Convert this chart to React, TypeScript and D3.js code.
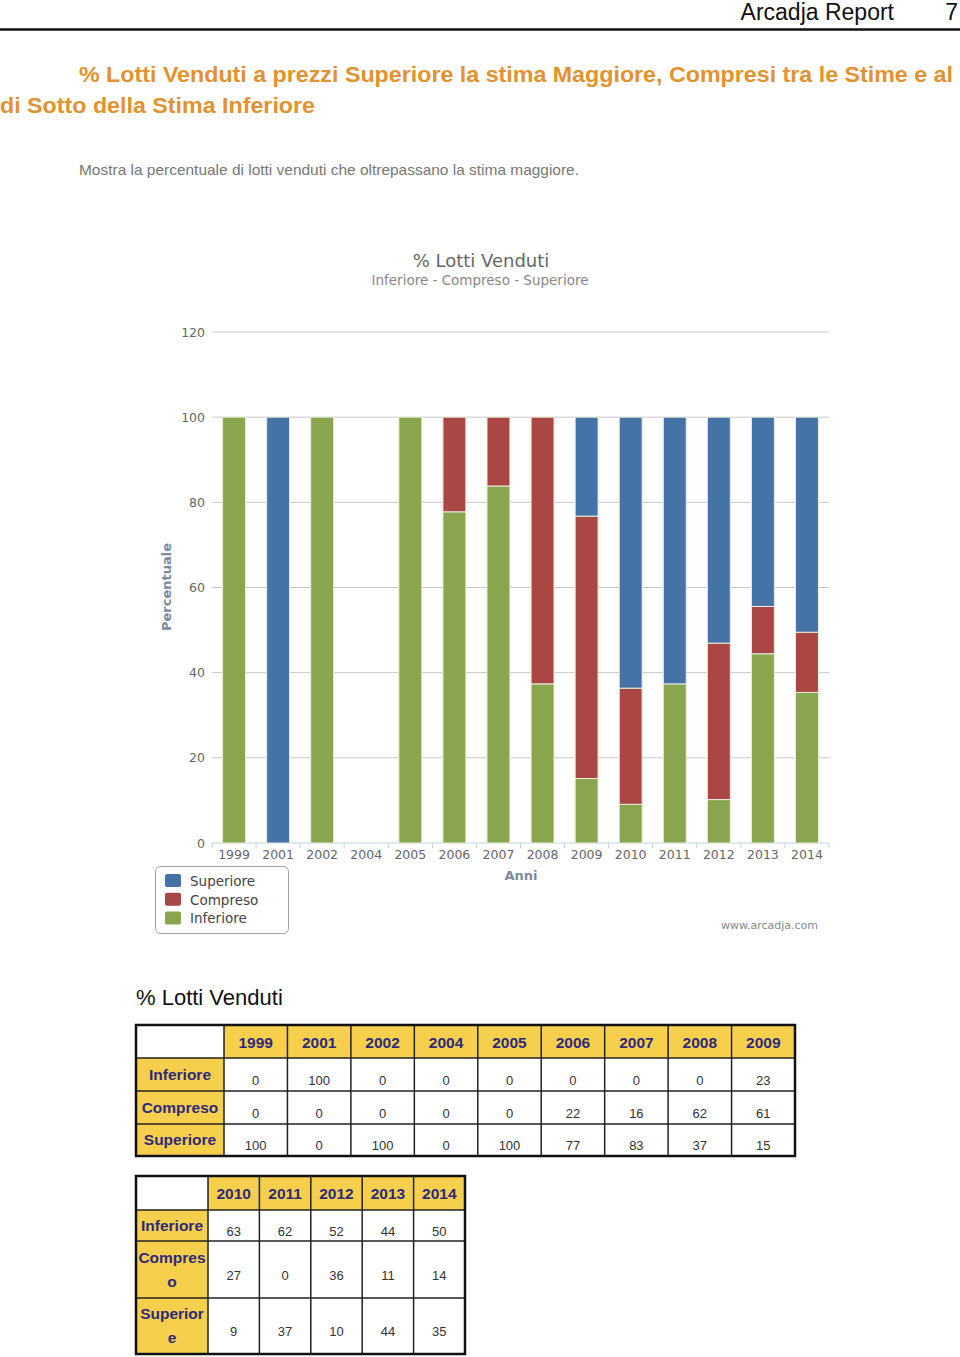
import React from "react";
import * as d3 from "d3";

const years = ["1999","2001","2002","2004","2005","2006","2007","2008","2009","2010","2011","2012","2013","2014"];
// Table rows as printed in the report
const rowInferiore = [0,100,0,0,0,0,0,0,23,63,62,52,44,50];
const rowCompreso = [0,0,0,0,0,22,16,62,61,27,0,36,11,14];
const rowSuperiore = [100,0,100,0,100,77,83,37,15,9,37,10,44,35];
const yTicks = [0,20,40,60,80,100,120];

// Chart stacking as drawn (bottom -> top)
const chartSeries = [
  { name: "Inferiore", color: "#89A54E", values: rowSuperiore },
  { name: "Compreso", color: "#AA4643", values: rowCompreso },
  { name: "Superiore", color: "#4572A7", values: rowInferiore },
];
const legendOrder = ["Superiore", "Compreso", "Inferiore"];

const tableRows = [rowInferiore, rowCompreso, rowSuperiore];
const table1Labels = [["Inferiore"], ["Compreso"], ["Superiore"]];
const table2Labels = [["Inferiore"], ["Compres", "o"], ["Superior", "e"]];

const YELLOW = "#F6D04D";
const PURPLE = "#2F2A7C";
const ORANGE = "#E2922E";
const AXISC = "#666";

function Table({ x0, firstW, cw, rowYs, labelLines, idxs }: any) {
  const n = idxs.length;
  const xEnd = x0 + firstW + cw * n;
  const els: any[] = [];
  els.push(<rect key="hdr" x={x0 + firstW} y={rowYs[0]} width={cw * n} height={rowYs[1] - rowYs[0]} fill={YELLOW} />);
  els.push(<rect key="lbl" x={x0} y={rowYs[1]} width={firstW} height={rowYs[4] - rowYs[1]} fill={YELLOW} />);
  idxs.forEach((yi: number, j: number) => {
    els.push(
      <text key={"h" + j} x={x0 + firstW + cw * (j + 0.5)} y={(rowYs[0] + rowYs[1]) / 2 + 6} textAnchor="middle"
        fontFamily="Liberation Sans, Arial, sans-serif" fontWeight="bold" fontSize={15.5} fill={PURPLE}>{years[yi]}</text>
    );
  });
  tableRows.forEach((row, r) => {
    const top = rowYs[r + 1], bot = rowYs[r + 2];
    const mid = (top + bot) / 2;
    const lines = labelLines[r];
    lines.forEach((ln: string, k: number) => {
      const off = (k - (lines.length - 1) / 2) * 24;
      els.push(
        <text key={"l" + r + k} x={x0 + firstW / 2} y={mid + off + 5} textAnchor="middle"
          fontFamily="Liberation Sans, Arial, sans-serif" fontWeight="bold" fontSize={15.5} fill={PURPLE}>{ln}</text>
      );
    });
    idxs.forEach((yi: number, j: number) => {
      els.push(
        <text key={"v" + r + "_" + j} x={x0 + firstW + cw * (j + 0.5)} y={mid + 10} textAnchor="middle"
          fontFamily="Liberation Sans, Arial, sans-serif" fontSize={13} fill="#333">{row[yi]}</text>
      );
    });
  });
  for (let j = 0; j <= n; j++) {
    const xx = x0 + firstW + cw * j;
    els.push(<line key={"vl" + j} x1={xx} x2={xx} y1={rowYs[0]} y2={rowYs[4]} stroke="#222" strokeWidth={1.5} />);
  }
  for (let r = 1; r < 4; r++) {
    els.push(<line key={"hl" + r} x1={x0} x2={xEnd} y1={rowYs[r]} y2={rowYs[r]} stroke="#222" strokeWidth={1.5} />);
  }
  els.push(<rect key="outer" x={x0} y={rowYs[0]} width={xEnd - x0} height={rowYs[4] - rowYs[0]} fill="none" stroke="#111" strokeWidth={2.5} />);
  return <g>{els}</g>;
}

export default function App() {
  const W = 960, H = 1357;
  const x = d3.scaleBand<string>().domain(years).range([212, 829]).paddingInner(0.48).paddingOuter(0.24);
  const y = d3.scaleLinear().domain([0, 120]).range([843, 332]);
  const step = x.step();
  // percent stacking (each year normalised to 100)
  const stack = d3.stack<number>()
    .keys(chartSeries.map((_, i) => String(i)))
    .value((i: any, key: string) => chartSeries[+key].values[i])
    .offset(d3.stackOffsetExpand);
  const stacked = stack(years.map((_, i) => i));
  const chartFont = "DejaVu Sans, Verdana, sans-serif";

  return (
    <svg width={W} height={H} style={{ position: "absolute", left: 0, top: 0, background: "#fff" }}>
      <rect x={0} y={0} width={W} height={H} fill="#fff" />
      <text x={894} y={20} textAnchor="end" fontFamily="Liberation Sans, Arial, sans-serif" fontSize={23} fill="#111">Arcadja Report</text>
      <text x={958} y={20} textAnchor="end" fontFamily="Liberation Sans, Arial, sans-serif" fontSize={23} fill="#111">7</text>
      <line x1={0} x2={960} y1={29.5} y2={29.5} stroke="#111" strokeWidth={2.5} />
      <text x={79} y={82} fontFamily="Liberation Sans, Arial, sans-serif" fontWeight="bold" fontSize={22} fill={ORANGE}
        textLength={874} lengthAdjust="spacingAndGlyphs">% Lotti Venduti a prezzi Superiore la stima Maggiore, Compresi tra le Stime e al</text>
      <text x={0} y={113} fontFamily="Liberation Sans, Arial, sans-serif" fontWeight="bold" fontSize={22} fill={ORANGE}
        textLength={315} lengthAdjust="spacingAndGlyphs">di Sotto della Stima Inferiore</text>
      <text x={79} y={175} fontFamily="Liberation Sans, Arial, sans-serif" fontSize={15} fill="#777"
        textLength={500} lengthAdjust="spacingAndGlyphs">Mostra la percentuale di lotti venduti che oltrepassano la stima maggiore.</text>

      <text x={481} y={267} textAnchor="middle" fontFamily={chartFont} fontSize={18} fill="#666">% Lotti Venduti</text>
      <text x={480} y={285} textAnchor="middle" fontFamily={chartFont} fontSize={13.5} fill="#888">Inferiore - Compreso - Superiore</text>

      {yTicks.map(t => (
        <g key={"g" + t}>
          <line x1={212} x2={829} y1={y(t)} y2={y(t)} stroke={t === 0 ? "#C0D0E0" : "#C8C8C8"} strokeWidth={1} />
          <text x={205} y={y(t) + 4.5} textAnchor="end" fontFamily={chartFont} fontSize={12.5} fill={AXISC}>{t}</text>
        </g>
      ))}
      {stacked.map((s, si) => (
        <g key={"s" + si}>
          {s.map((d, i) => {
            const lo = (d[0] || 0) * 100, hi = (d[1] || 0) * 100;
            const h = y(lo) - y(hi);
            if (!(h > 0)) return null;
            return (
              <rect key={i} x={x(years[i])!} y={y(hi)} width={x.bandwidth()} height={h}
                fill={chartSeries[si].color} stroke="#E8EEDC" strokeWidth={1} />
            );
          })}
        </g>
      ))}
      {d3.range(years.length + 1).map(i => (
        <line key={"xt" + i} x1={212 + i * step} x2={212 + i * step} y1={843} y2={848} stroke="#C0D0E0" />
      ))}
      {years.map(yr => (
        <text key={"xl" + yr} x={x(yr)! + x.bandwidth() / 2} y={859} textAnchor="middle" fontFamily={chartFont} fontSize={12.5} fill={AXISC}>{yr}</text>
      ))}
      <text x={521} y={880} textAnchor="middle" fontFamily={chartFont} fontWeight="bold" fontSize={13} fill="#7C8A9C">Anni</text>
      <text transform="translate(171,587) rotate(-90)" textAnchor="middle" fontFamily={chartFont} fontWeight="bold" fontSize={13} fill="#7C8A9C">Percentuale</text>

      <rect x={155.5} y={866.5} width={133} height={67} rx={5} fill="#fff" stroke="#A0A0A0" />
      {legendOrder.map((nm, i) => {
        const s = chartSeries.find(c => c.name === nm)!;
        return (
          <g key={"lg" + nm}>
            <rect x={165} y={874 + i * 18.7} width={16} height={13} rx={2} fill={s.color} />
            <text x={190} y={886 + i * 18.7} fontFamily={chartFont} fontSize={13.5} fill="#444">{nm}</text>
          </g>
        );
      })}
      <text x={818} y={929} textAnchor="end" fontFamily={chartFont} fontSize={11} fill="#888">www.arcadja.com</text>

      <text x={136} y={1005} fontFamily="Liberation Sans, Arial, sans-serif" fontSize={22} fill="#111">% Lotti Venduti</text>
      <Table x0={136} firstW={88} cw={(795 - 224) / 9} rowYs={[1025, 1058, 1091, 1124, 1156]}
        labelLines={table1Labels} idxs={d3.range(0, 9)} />
      <Table x0={136} firstW={72} cw={(465 - 208) / 5} rowYs={[1176, 1210, 1241, 1298, 1354]}
        labelLines={table2Labels} idxs={d3.range(9, 14)} />
    </svg>
  );
}
